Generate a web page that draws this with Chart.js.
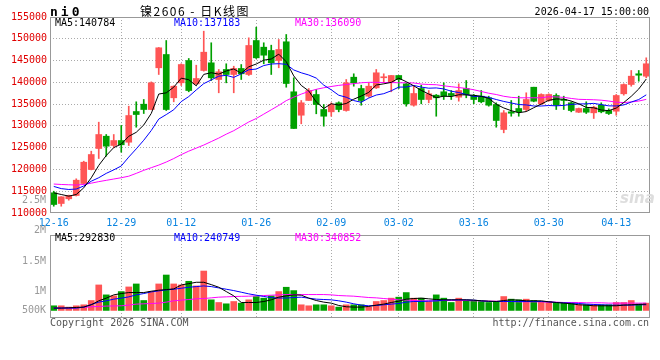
<!DOCTYPE html>
<html>
<head>
<meta charset="utf-8">
<script src="https://cdn.jsdelivr.net/npm/chart.js@4.4.1/dist/chart.umd.min.js"></script>
<style>
body{margin:0;background:#fff;width:660px;height:360px;position:relative;overflow:hidden;font-family:"DejaVu Sans Mono",monospace;}
canvas{position:absolute;left:0;}
#price{top:0;}
#vol{top:232px;}
.t{position:absolute;white-space:nowrap;font-size:10px;line-height:10px;}
.r{text-align:right;}
</style>
</head>
<body>
<canvas id="price" width="660" height="230"></canvas>
<canvas id="vol" width="660" height="88"></canvas>

<div class="t" style="left:50px;top:5px;font-size:13px;line-height:13px;font-weight:bold;letter-spacing:3px;">ni0</div>
<div class="t" style="left:140px;top:4px;font-family:'Noto Sans CJK SC';font-size:12px;line-height:14px;letter-spacing:1.5px;">镍2606 - 日K线图</div>
<div class="t" style="right:11px;top:7px;">2026-04-17 15:00:00</div>

<div class="t" style="left:55px;top:18px;color:#000;">MA5:140784</div>
<div class="t" style="left:174px;top:18px;color:#0000ff;">MA10:137183</div>
<div class="t" style="left:295px;top:18px;color:#ff00ff;">MA30:136090</div>

<div class="t" style="left:55px;top:233px;color:#000;">MA5:292830</div>
<div class="t" style="left:174px;top:233px;color:#0000ff;">MA10:240749</div>
<div class="t" style="left:295px;top:233px;color:#ff00ff;">MA30:340852</div>

<div class="t r" style="right:614px;top:195px;color:#999;">2.5M</div>
<div class="t r" style="right:614px;top:225px;color:#999;">2M</div>
<div class="t r" style="right:614px;top:256px;color:#999;">1.5M</div>
<div class="t r" style="right:614px;top:286px;color:#999;">1M</div>
<div class="t r" style="right:614px;top:305px;color:#999;">500K</div>

<div class="t" style="left:620px;top:191px;font-family:'DejaVu Sans';font-size:15px;line-height:15px;font-weight:bold;font-style:italic;color:#ddd;">sina</div>

<div class="t" style="left:50px;top:318px;color:#555;">Copyright 2026 SINA.COM</div>
<div class="t" style="right:11px;top:318px;color:#555;">http://finance.sina.com.cn</div>

<script>
// trading days 2025-12-16 .. 2026-04-17
const dates = ['12-16','12-17','12-18','12-19','12-22','12-23','12-24','12-25','12-26','12-29',
  '12-30','12-31','01-05','01-06','01-07','01-08','01-09','01-12','01-13','01-14',
  '01-15','01-16','01-19','01-20','01-21','01-22','01-23','01-26','01-27','01-28',
  '01-29','01-30','02-02','02-03','02-04','02-05','02-06','02-09','02-10','02-11',
  '02-12','02-13','02-24','02-25','02-26','02-27','03-02','03-03','03-04','03-05',
  '03-06','03-09','03-10','03-11','03-12','03-13','03-16','03-17','03-18','03-19',
  '03-20','03-23','03-24','03-25','03-26','03-27','03-30','03-31','04-01','04-02',
  '04-03','04-07','04-08','04-09','04-10','04-13','04-14','04-15','04-16','04-17'];
const axisDates = ['12-16','12-29','01-12','01-26','02-09','03-02','03-16','03-30','04-13'];

const open = [114640,112180,113260,114020,116770,119990,124810,127630,125500,126640,
  126250,133300,134980,133760,143340,146390,136450,139890,145010,139660,
  142720,144480,140650,142950,141800,143180,141800,149600,148070,147310,
  145010,149310,137830,132450,135830,137210,133760,133230,135300,133530,
  141180,138580,136820,138740,141050,140120,141570,139660,134750,138580,
  136060,137050,137830,137440,136590,138580,136980,136820,136450,134910,
  129170,133230,133990,133760,138880,135070,135830,136980,136060,135300,
  133140,133990,133000,134750,133530,133370,137370,139500,141960,141410];
const close = [111950,113720,114020,117530,121660,123430,128020,125340,126640,125660,
  132380,132610,133760,139890,147930,133760,139110,144090,138120,140880,
  146920,141040,142420,141800,143180,141960,148460,145630,146230,144480,
  147540,139730,129400,135300,138120,134910,132220,134910,133760,139890,
  139890,135830,139110,142190,141250,141570,140650,135070,137440,136060,
  137370,136450,136820,136980,138120,137210,136060,135530,134750,131240,
  133000,132910,133230,136060,135670,137210,137210,134750,135830,133530,
  133990,133140,134290,133230,132840,136980,139500,141410,141640,144260];
const high = [115000,113740,114100,117850,121890,124190,130850,128020,128020,130090,
  134520,135530,136060,140100,148000,149600,139200,144260,145470,143930,
  151740,149080,142950,144260,143700,144090,150220,152660,149080,148530,
  149830,150980,141040,135830,138580,138350,134910,135300,135530,140650,
  141960,139340,139890,142950,141960,141570,141570,139890,139110,139340,
  138120,137210,139890,138120,139660,140420,137210,138120,136820,135300,
  133530,135830,136820,137600,138880,137370,137370,137370,136820,135530,
  134100,135530,134520,135300,133920,137210,139660,142720,142720,145630];
const low = [111560,111560,112940,113900,116600,119900,122510,123040,124970,123960,
  125500,129700,132840,133700,141800,133530,135530,139270,137830,139500,
  142560,140420,137600,139890,137600,140650,141570,145470,144260,141800,
  143340,138880,129400,130480,135830,132780,129930,132220,133230,133370,
  139110,134750,136590,138580,139890,137830,138580,134520,134520,135070,
  135300,132220,136060,136060,135670,136450,135070,135300,134520,129700,
  128410,132220,132220,133370,135530,134910,135670,133760,133760,133230,
  133050,132840,131700,133000,132610,132450,137050,139110,140260,141040];

const ma5 = [114630,114250,113870,114250,115776,118072,120932,123196,125018,125818,
  127608,128526,130210,132860,137314,137590,138890,140956,140602,139192,
  141824,142210,141876,142612,143072,142080,143564,144206,145092,145352,
  146468,144722,141476,139290,138018,135492,133990,135092,134784,135138,
  136134,136856,137696,139382,139654,139990,140954,140146,139196,138158,
  137318,136478,136828,136736,137148,137116,137038,136780,136334,134958,
  134116,133486,133026,133288,134174,135016,135876,136180,136134,135706,
  135062,134248,134156,133636,133498,134096,135368,136792,138474,140758];
const ma10 = [116100,115600,115400,115500,116200,117300,118100,119100,119900,120797,
  122840,124729,126703,128939,131566,132599,133708,135583,136731,138253,
  139707,140550,141416,141607,141132,141952,142887,143041,143852,144212,
  144274,144143,142841,142191,141685,140980,139356,138284,137037,136578,
  135813,135423,136394,137083,137396,138062,138905,138921,139289,138906,
  138654,138716,138487,137966,137653,137217,136758,136804,136535,136053,
  135616,135262,134903,134811,134566,134566,134681,134603,134711,134940,
  135039,135062,135168,134885,134602,134579,134808,135474,136055,137128];
const ma30 = [116650,116550,116480,116420,116550,116850,117200,117500,117800,118100,
  118450,119100,119800,120400,121000,121700,122500,123400,124200,124900,
  125600,126400,127200,128100,128900,129900,130900,131700,132700,133700,
  134700,135800,136600,137300,137900,138400,138750,139050,139300,139500,
  139700,139900,140000,140000,139950,139950,139900,139900,139850,139600,
  139500,139450,139200,139000,138800,138600,138300,137900,137500,137200,
  136800,136550,136450,136450,136450,136450,136700,136650,136550,136300,
  136100,136050,136000,135900,135700,135450,135350,135500,135700,136090];

const volume = [225000,225000,192000,225000,250000,358000,750000,500000,475000,583000,
  700000,775000,358000,583000,775000,1000000,775000,750000,842000,725000,
  1100000,375000,308000,275000,333000,292000,375000,458000,417000,475000,
  583000,692000,608000,250000,225000,250000,250000,225000,192000,250000,
  250000,250000,192000,333000,358000,417000,442000,558000,417000,417000,
  333000,500000,417000,308000,417000,358000,358000,333000,308000,333000,
  458000,392000,375000,392000,358000,333000,333000,308000,292000,292000,
  250000,250000,250000,250000,250000,308000,308000,358000,275000,292000];
const volMa5 = [167000,167000,175000,183000,192000,250000,350000,417000,500000,533000,
  558000,558000,558000,592000,617000,633000,650000,750000,783000,817000,
  817000,758000,692000,583000,475000,308000,308000,308000,333000,375000,
  442000,475000,500000,492000,417000,358000,317000,292000,233000,200000,
  192000,192000,208000,242000,267000,308000,342000,392000,408000,417000,
  400000,383000,375000,375000,375000,375000,367000,350000,342000,333000,
  358000,375000,367000,350000,350000,350000,325000,308000,292000,275000,
  250000,242000,225000,225000,225000,225000,242000,250000,258000,267000];
const volMa10 = [167000,167000,167000,167000,192000,258000,317000,350000,392000,417000,
  450000,500000,533000,575000,600000,625000,642000,667000,692000,708000,
  725000,708000,675000,642000,608000,567000,525000,492000,460000,430000,
  420000,420000,433000,442000,417000,392000,383000,375000,350000,317000,
  275000,242000,225000,233000,250000,267000,283000,317000,333000,333000,
  342000,350000,367000,375000,375000,375000,367000,350000,333000,333000,
  333000,333000,333000,333000,333000,333000,325000,308000,300000,292000,
  283000,267000,258000,250000,242000,242000,242000,242000,250000,250000];
const volMa30 = [167000,167000,167000,175000,183000,200000,208000,217000,221000,225000,
  242000,267000,275000,283000,292000,317000,350000,367000,383000,400000,
  408000,425000,442000,450000,458000,463000,467000,475000,483000,492000,
  500000,508000,508000,508000,508000,508000,508000,500000,483000,475000,
  467000,450000,433000,425000,408000,392000,375000,367000,358000,350000,
  350000,350000,358000,358000,358000,358000,350000,350000,342000,342000,
  333000,333000,325000,325000,325000,325000,317000,317000,308000,308000,
  308000,300000,300000,300000,292000,292000,292000,292000,292000,292000];
const volFloor = 108000;

Chart.defaults.font.family = '"DejaVu Sans Mono", monospace';
Chart.defaults.font.size = 10;
Chart.defaults.animation = false;
Chart.defaults.plugins.legend.display = false;
Chart.defaults.plugins.tooltip.enabled = false;

const UP = '#ff5555';
const DOWN = '#00a000';
const GRID = '#aaa';
const candleColor = open.map((o, i) => close[i] >= o ? UP : DOWN);

// grey box round the plot area
const frame = {
    id: 'frame',
    afterDraw(chart) {
        const a = chart.chartArea;
        const ctx = chart.ctx;
        ctx.save();
        ctx.strokeStyle = '#999';
        ctx.lineWidth = 1;
        ctx.strokeRect(Math.round(a.left) + 0.5, Math.round(a.top) + 0.5, Math.round(a.right - a.left) - 1, Math.round(a.bottom - a.top) - 1);
        ctx.restore();
    }
};

function lineSet(data, color) {
    return { type: 'line', data: data, borderColor: color, borderWidth: 1, pointRadius: 0, tension: 0, order: 0 };
}

function dateAxis(showLabels) {
    return {
        type: 'category',
        offset: true,
        grid: {
            offset: false,
            drawTicks: false,
            color: c => (c.index > 0 && axisDates.includes(dates[c.index])) ? GRID : 'transparent'
        },
        border: { display: false, dash: [1, 2] },
        ticks: {
            display: showLabels,
            autoSkip: false,
            maxRotation: 0,
            color: '#0a84e0',
            padding: 4,
            callback: (v, i) => axisDates.includes(dates[i]) ? dates[i] : ''
        },
        afterFit: s => { s.height = showLabels ? 17 : 0; }
    };
}

new Chart(document.getElementById('price'), {
    type: 'bar',
    data: {
        labels: dates,
        datasets: [
            lineSet(ma5, '#000000'),
            lineSet(ma10, '#0000ff'),
            lineSet(ma30, '#ff00ff'),
            { data: open.map((o, i) => [o, close[i]]), backgroundColor: candleColor, barThickness: 6, minBarLength: 1, grouped: false, order: 1 },
            { data: low.map((l, i) => [l, high[i]]), backgroundColor: candleColor, barThickness: 1, grouped: false, order: 2 }
        ]
    },
    options: {
        responsive: false,
        layout: { padding: { top: 17, right: 10, left: 0, bottom: 0 } },
        scales: {
            x: dateAxis(true),
            y: {
                min: 110000,
                max: 155000,
                ticks: { stepSize: 5000, color: '#e00000', padding: 3, callback: v => String(v) },
                grid: { drawTicks: false, color: c => (c.tick.value > 110000 && c.tick.value < 155000) ? GRID : 'transparent' },
                border: { display: false, dash: [1, 2] },
                afterFit: s => { s.width = 50; }
            }
        }
    },
    plugins: [frame]
});

new Chart(document.getElementById('vol'), {
    type: 'bar',
    data: {
        labels: dates,
        datasets: [
            lineSet(volMa5, '#000000'),
            lineSet(volMa10, '#0000ff'),
            lineSet(volMa30, '#ff00ff'),
            { data: volume.map(v => [volFloor, v]), backgroundColor: candleColor, barThickness: 6, grouped: false, order: 1 }
        ]
    },
    options: {
        responsive: false,
        layout: { padding: { top: 3, right: 10, left: 0, bottom: 2 } },
        scales: {
            x: dateAxis(false),
            y: {
                min: -82500,
                max: 2007500,
                ticks: { display: false, stepSize: 500000 },
                grid: { drawTicks: false, color: c => [500000, 1000000, 1500000].includes(c.tick.value) ? GRID : 'transparent' },
                border: { display: false, dash: [1, 2] },
                afterFit: s => { s.width = 50; }
            }
        }
    },
    plugins: [frame]
});
</script>
</body>
</html>
